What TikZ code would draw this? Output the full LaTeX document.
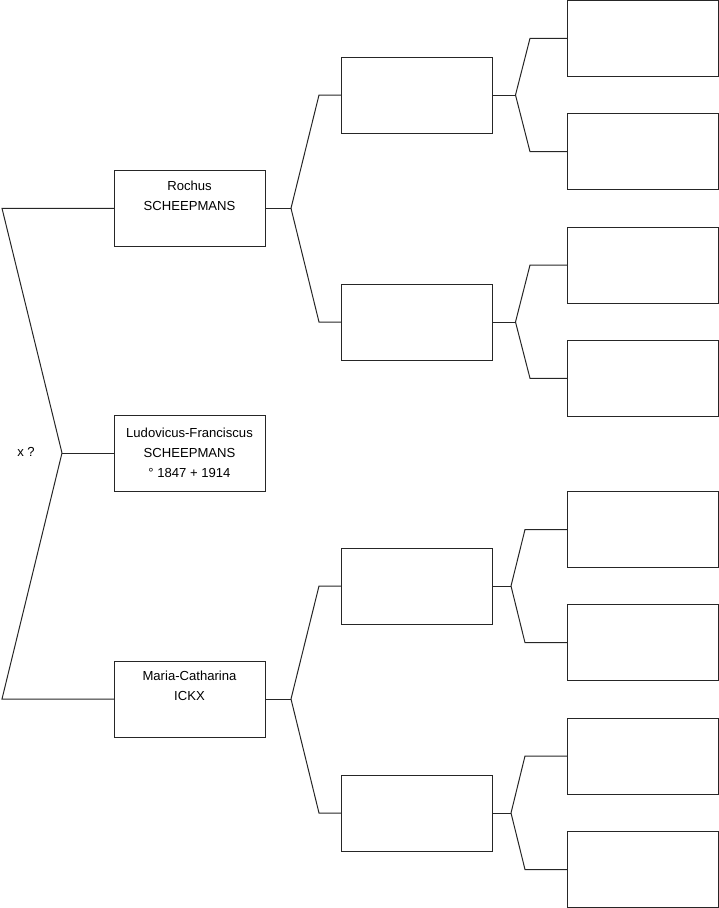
\documentclass[tikz,border=0pt]{standalone}
\usepackage{fontspec}
\setmainfont{Liberation Sans}
\begin{document}
\begin{tikzpicture}[x=1pt,y=-1pt,
  person/.style={draw=black!85,line width=1pt,rectangle,minimum width=151pt,minimum height=76pt,inner sep=0pt,outer sep=0pt,align=center,font=\fontsize{13.1}{20}\selectfont},
  link/.style={draw=black!85,line width=1pt}]
\useasboundingbox (0,0) rectangle (719,908);
% generation 1-2
\node[person] (subj) at (189.5,453) {Ludovicus-Franciscus\\SCHEEPMANS\\° 1847 + 1914};
\node[person] (fath) at (189.5,208.3) {Rochus\\SCHEEPMANS\\\strut};
\node[person] (moth) at (189.5,699) {Maria-Catharina\\ICKX\\\strut};
\node[font=\fontsize{13.1}{20}\selectfont] (xq) at (26,452) {x ?};
% generation 3
\node[person] (g3a) at (416.5,95) {};
\node[person] (g3b) at (416.5,322) {};
\node[person] (g3c) at (416.5,586) {};
\node[person] (g3d) at (416.5,813) {};
% generation 4
\node[person] (g4a) at (643,38.3) {};
\node[person] (g4b) at (643,151.7) {};
\node[person] (g4c) at (643,265) {};
\node[person] (g4d) at (643,378.3) {};
\node[person] (g4e) at (643,529.5) {};
\node[person] (g4f) at (643,642.7) {};
\node[person] (g4g) at (643,756) {};
\node[person] (g4h) at (643,869.5) {};
% forks
\coordinate (k0) at (62,453);
\coordinate (k1) at (291,208.3);
\coordinate (k2) at (291,699);
\coordinate (k3) at (515.5,95);
\coordinate (k4) at (515.5,322);
\coordinate (k5) at (511,586);
\coordinate (k6) at (511,813);
% connectors
\draw[link] (subj.west) -- (k0);
\draw[link] (k0) -- ([xshift=-112pt]fath.west) -- (fath.west);
\draw[link] (k0) -- ([xshift=-112pt]moth.west) -- (moth.west);
\draw[link] (fath.east) -- (k1);
\draw[link] (k1) -- ([xshift=-22pt]g3a.west) -- (g3a.west);
\draw[link] (k1) -- ([xshift=-22pt]g3b.west) -- (g3b.west);
\draw[link] (moth.east) -- (k2);
\draw[link] (k2) -- ([xshift=-22pt]g3c.west) -- (g3c.west);
\draw[link] (k2) -- ([xshift=-22pt]g3d.west) -- (g3d.west);
\draw[link] (g3a.east) -- (k3);
\draw[link] (k3) -- ([xshift=-37.5pt]g4a.west) -- (g4a.west);
\draw[link] (k3) -- ([xshift=-37.5pt]g4b.west) -- (g4b.west);
\draw[link] (g3b.east) -- (k4);
\draw[link] (k4) -- ([xshift=-37.5pt]g4c.west) -- (g4c.west);
\draw[link] (k4) -- ([xshift=-37.5pt]g4d.west) -- (g4d.west);
\draw[link] (g3c.east) -- (k5);
\draw[link] (k5) -- ([xshift=-42.5pt]g4e.west) -- (g4e.west);
\draw[link] (k5) -- ([xshift=-42.5pt]g4f.west) -- (g4f.west);
\draw[link] (g3d.east) -- (k6);
\draw[link] (k6) -- ([xshift=-42.5pt]g4g.west) -- (g4g.west);
\draw[link] (k6) -- ([xshift=-42.5pt]g4h.west) -- (g4h.west);
\end{tikzpicture}
\end{document}
